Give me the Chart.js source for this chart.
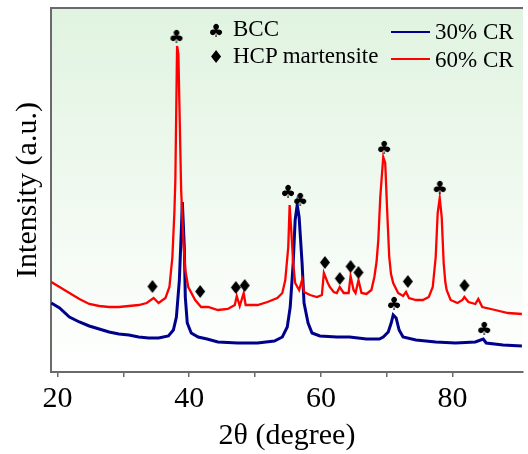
<!DOCTYPE html>
<html>
<head>
<meta charset="utf-8">
<script src="https://cdn.jsdelivr.net/npm/chart.js@4.4.0/dist/chart.umd.min.js"></script>
<style>
  html, body { margin: 0; padding: 0; background: #fff; }
  #wrap { position: relative; width: 528px; height: 454px; overflow: hidden; }
  canvas { display: block; }
  .leg { position: absolute; font-family: 'Liberation Serif', 'Times New Roman', serif; font-size: 23px; line-height: 23px; color: #000; white-space: nowrap; }
  .sym { position: absolute; font-family: 'DejaVu Sans', sans-serif; font-size: 18px; line-height: 18px; color: #000; transform: translate(-50%, -50%); }
  .ln { position: absolute; left: 391px; width: 39px; height: 1.5px; }
</style>
</head>
<body>
<div id="wrap">
  <canvas id="grafico" width="528" height="454"></canvas>
  <span class="sym" style="left:216px; top:31px;">♣</span>
  <span class="leg" style="left:233px; top:17px;">BCC</span>
  <span class="sym" style="left:216px; top:57px;">♦</span>
  <span class="leg" style="left:233px; top:44px;">HCP martensite</span>
  <div class="ln" style="top:31px; background:#00008c;"></div>
  <span class="leg" style="left:435px; top:20px;">30% CR</span>
  <div class="ln" style="top:58px; background:#ff0000;"></div>
  <span class="leg" style="left:435px; top:48px;">60% CR</span>
</div>
<script>
// 2θ (graus) e intensidade
const theta60 = [19.05, 20.3, 21.8, 23.31, 24.81, 26.32, 27.82, 29.32, 30.83, 32.33, 33.53, 34.59, 35.34, 36.39, 36.99,
  37.44, 37.74, 37.89, 38.15, 38.35, 38.77, 39.1, 39.4, 39.85, 40.9, 41.8, 42.86, 44.36, 45.86, 46.92, 47.22, 47.67,
  48.27, 48.57, 50.38, 51.88, 53.38, 54.14, 54.59, 55.04, 55.25, 55.49, 55.79, 56.09, 56.69, 57.14, 57.44, 58.35,
  59.4, 60.15, 60.45, 61.05, 61.35, 61.95, 62.41, 62.86, 63.46, 64.21, 64.51, 64.96, 65.26, 65.71, 66.17, 66.92,
  67.67, 68.12, 68.45, 68.72, 69.02, 69.47, 69.77, 70.08, 70.38, 70.65, 70.98, 71.73, 72.48, 72.93, 73.38, 74.44, 75.49, 76.39,
  76.99, 77.44, 77.74, 78.05, 78.35, 78.65, 78.9, 79.1, 79.7, 80.75, 81.5, 81.8, 82.41, 83.46, 83.91, 84.51, 86.47, 88.42, 90.53];
const int60 = [90, 85, 79, 73, 68, 66, 65, 65, 66, 67, 69, 74, 69, 74, 85,
  115, 159, 192, 326, 318, 182, 132, 102, 85, 72, 65, 65, 62, 63, 67, 76, 66,
  79, 67, 67, 70, 74, 79, 92, 125, 167, 142, 109, 89, 82, 92, 80, 77,
  75, 77, 99, 89, 85, 80, 79, 85, 79, 79, 96, 82, 79, 92, 79, 78,
  82, 95, 110, 132, 175, 215, 209, 159, 115, 98, 89, 79, 76, 80, 74, 72, 72, 75,
  85, 115, 159, 174, 155, 109, 90, 82, 72, 69, 72, 75, 70, 68, 73, 65, 62, 59, 58];

const theta30 = [19.05, 20.3, 21.8, 23.31, 24.81, 26.32, 27.82, 29.32, 30.83, 32.33, 33.83, 35.34, 36.84, 37.59, 38.05,
  38.5, 38.8, 38.95, 39.25, 39.4, 39.7, 40.3, 41.35, 42.71, 44.36, 47.37, 50.38, 52.94, 54.14, 54.89, 55.34, 55.79,
  56.09, 56.4, 56.69, 57.14, 57.44, 58.05, 58.65, 59.85, 62.41, 64.36, 66.92, 68.87, 69.47, 70.23, 70.68, 70.98,
  71.43, 71.88, 72.48, 74.44, 77.44, 80.45, 83.46, 84.66, 85.11, 87.67, 90.53];
const int30 = [69, 64, 55, 50, 46, 43, 40, 38, 37, 35, 34, 34, 36, 42, 55,
  92, 142, 170, 125, 75, 49, 39, 35, 33, 30, 29, 29, 31, 35, 45, 65, 109,
  152, 167, 155, 109, 69, 49, 39, 36, 35, 35, 33, 33, 35, 40, 49, 57,
  54, 42, 35, 32, 30, 29, 30, 33, 29, 27, 26];

// marcadores de fase
const bccX = [38.05, 55.0, 56.85, 69.6, 78.05, 71.1, 84.8];
const bccY = [334, 179, 171, 223, 183, 67, 42];
const hcpX = [34.4, 41.65, 47.07, 48.42, 60.6, 62.86, 64.5, 65.7, 73.2, 81.8];
const hcpY = [84, 79, 83, 85, 108, 92, 104, 98, 89, 85];

const xTicks = [20, 30, 40, 50, 60, 70, 80];

function pares(xs, ys) {
  return xs.map((x, i) => ({ x, y: ys[i] }));
}

function glifo(ch, tam) {
  const c = document.createElement('canvas');
  c.width = 24; c.height = 24;
  const g = c.getContext('2d');
  g.font = tam + 'px "DejaVu Sans"';
  g.textAlign = 'center';
  g.textBaseline = 'middle';
  g.fillStyle = '#000';
  g.fillText(ch, 12, 12);
  return c;
}

const fundo = {
  id: 'fundo',
  beforeDraw(chart) {
    const { ctx, chartArea: a } = chart;
    ctx.save();
    ctx.fillStyle = '#fff';
    ctx.fillRect(0, 0, chart.width, chart.height);
    const grad = ctx.createLinearGradient(0, a.top, 0, a.bottom);
    grad.addColorStop(0, '#e0f3e0');
    grad.addColorStop(1, '#ffffff');
    ctx.fillStyle = grad;
    ctx.fillRect(a.left, a.top, a.right - a.left, a.bottom - a.top);
    ctx.strokeStyle = '#6a6a6a';
    ctx.lineWidth = 2;
    ctx.beginPath();
    ctx.moveTo(a.left, a.top);
    ctx.lineTo(a.right, a.top);
    ctx.stroke();
    ctx.restore();
  }
};

const serif = 'Liberation Serif';

new Chart(document.getElementById('grafico').getContext('2d'), {
  type: 'scatter',
  data: {
    datasets: [
      {
        label: 'BCC',
        data: pares(bccX, bccY),
        pointStyle: glifo('♣', 18),
        showLine: false
      },
      {
        label: 'HCP martensite',
        data: pares(hcpX, hcpY),
        pointStyle: glifo('♦', 18),
        showLine: false
      },
      {
        label: '60% CR',
        data: pares(theta60, int60),
        showLine: true,
        borderColor: '#ff0000',
        borderWidth: 2.3,
        pointRadius: 0,
        tension: 0
      },
      {
        label: '30% CR',
        data: pares(theta30, int30),
        showLine: true,
        borderColor: '#00008c',
        borderWidth: 3,
        pointRadius: 0,
        tension: 0
      }
    ]
  },
  options: {
    responsive: false,
    animation: false,
    layout: { padding: { top: 8, right: 0, left: 0, bottom: 0 } },
    plugins: {
      legend: { display: false },
      tooltip: { enabled: false }
    },
    scales: {
      x: {
        type: 'linear',
        min: 19,
        max: 90.7,
        afterBuildTicks: s => { s.ticks = xTicks.map(v => ({ value: v })); },
        afterFit: s => { s.height = 82; },
        ticks: {
          autoSkip: false,
          maxRotation: 0,
          padding: 4,
          color: '#000',
          font: { family: serif, size: 30 },
          callback: v => (v % 20 === 0 ? v : '')
        },
        grid: { drawOnChartArea: false, drawTicks: true, tickLength: 5, color: '#6a6a6a', lineWidth: 1.5 },
        border: { color: '#6a6a6a', width: 2 },
        title: {
          display: true,
          text: '2θ (degree)',
          color: '#000',
          font: { family: serif, size: 30 },
          padding: { top: 0, bottom: 0 }
        }
      },
      y: {
        min: 0,
        max: 364,
        afterFit: s => { s.width = 51; },
        ticks: { display: false },
        grid: { display: false, drawTicks: false },
        border: { color: '#6a6a6a', width: 2 },
        title: {
          display: true,
          text: 'Intensity (a.u.)',
          color: '#000',
          font: { family: serif, size: 30 },
          padding: { top: 10, bottom: 0 }
        }
      }
    }
  },
  plugins: [fundo]
});
</script>
</body>
</html>
